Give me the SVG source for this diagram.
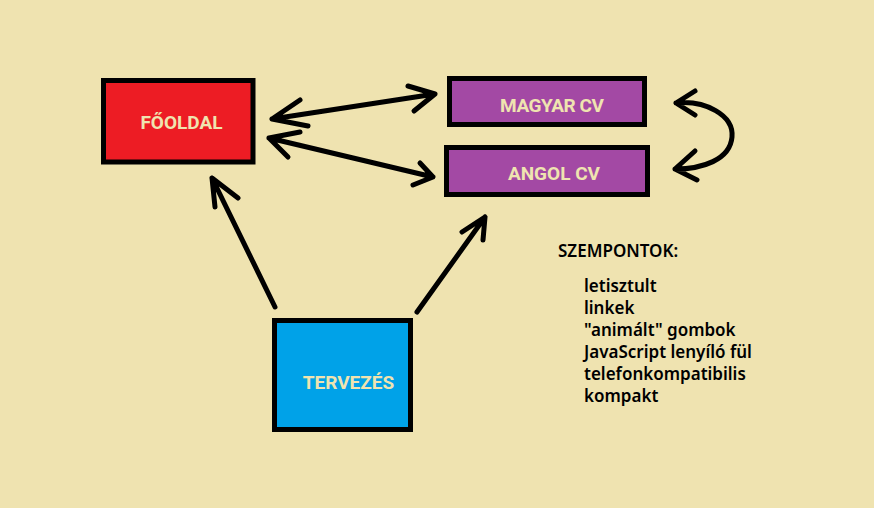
<svg xmlns="http://www.w3.org/2000/svg" width="874" height="508" viewBox="0 0 874 508">
<style>
.box{stroke:#000;stroke-width:5}
.lbl{font-family:Roboto,"Liberation Sans",sans-serif;font-size:19px;font-weight:bold;fill:#EFE4B0;text-anchor:middle}
.c{fill:none;stroke:#000;stroke-width:5;stroke-linecap:round;stroke-linejoin:round}
.t{font-family:"Noto Sans","Liberation Sans",sans-serif;font-size:17px;font-weight:600;fill:#000}
</style>
<rect width="874" height="508" fill="#EFE3B0"/>
<g id="connectors">
<path class="c" d="M272,119 L435,94 M300,100 L272,119 L308,126 M408,86 L435,94 L414,111"/>
<path class="c" d="M269,138 L433,177 M300,132 L269,138 L288,157 M420,163 L433,177 L413,185"/>
<path class="c" d="M275,307 L212,178 M215,207 L212,178 L238,198"/>
<path class="c" d="M417,312 L485,217 M462,232 L485,217 L483,240"/>
<path class="c" d="M676,103 C705,100 734,115 732,137 C730,160 702,169 675,169 M695,91 L676,103 L695,115 M695,151 L675,169 L697,180"/>
</g>
<g id="fooldal">
<rect class="box" x="103.5" y="80.5" width="149.5" height="81.5" fill="#ED1C24"/>
<text class="lbl" x="181.5" y="129" font-weight="500">FŐOLDAL</text>
</g>
<g id="magyar-cv">
<rect class="box" x="449.5" y="78.5" width="195" height="46" fill="#A349A4"/>
<text class="lbl" x="552" y="112" textLength="104">MAGYAR CV</text>
</g>
<g id="angol-cv">
<rect class="box" x="446.5" y="147.5" width="201" height="47" fill="#A349A4"/>
<text class="lbl" x="554" y="180">ANGOL CV</text>
</g>
<g id="tervezes">
<rect class="box" x="274.5" y="320.5" width="136" height="109" fill="#00A2E8"/>
<text class="lbl" x="348.5" y="389" font-weight="500">TERVEZÉS</text>
</g>
<g id="szempontok">
<text class="t" x="558" y="257" font-size="18">SZEMPONTOK:</text>
<text class="t" x="584" y="292">letisztult</text>
<text class="t" x="584" y="314">linkek</text>
<text class="t" x="584" y="336">"animált" gombok</text>
<text class="t" x="584" y="358">JavaScript lenyíló fül</text>
<text class="t" x="584" y="380">telefonkompatibilis</text>
<text class="t" x="584" y="402">kompakt</text>
</g>
</svg>
